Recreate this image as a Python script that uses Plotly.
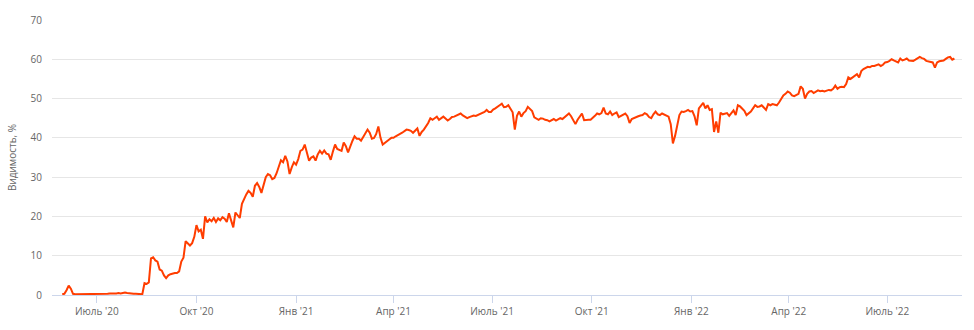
import pandas as pd
import plotly.graph_objects as go

# Visibility (%) sampled every 2 days starting 2020-05-30
start_date = "2020-05-30"
step = "2D"
visibility = [
    # 0-9
    0.2, 0.3, 1.2, 2.4, 1.6, 0.3, 0.2, 0.2, 0.2, 0.2,
    # 10-19
    0.2, 0.2, 0.3, 0.2, 0.2, 0.3, 0.3, 0.2, 0.3, 0.3,
    # 20-29
    0.3, 0.3, 0.4, 0.4, 0.3, 0.4, 0.5, 0.4, 0.5, 0.6,
    # 30-39
    0.5, 0.4, 0.4, 0.3, 0.3, 0.3, 0.2, 0.2, 3.0, 2.8,
    # 40-49
    3.2, 9.3, 9.6, 8.8, 8.5, 6.5, 6.2, 5.0, 4.3, 5.0,
    # 50-59
    5.3, 5.5, 5.6, 5.6, 6.0, 8.5, 9.5, 13.7, 13.0, 12.6,
    # 60-69
    13.2, 14.8, 17.8, 16.2, 16.6, 14.3, 20.0, 18.5, 19.3, 18.8,
    # 70-79
    19.6, 18.6, 19.5, 19.0, 19.8, 19.4, 18.6, 20.8, 19.0, 17.2,
    # 80-89
    21.0, 20.2, 19.6, 23.2, 24.5, 25.6, 26.5, 26.0, 25.0, 27.8,
    # 90-99
    28.5, 27.5, 26.0, 28.2, 30.0, 30.8, 30.5, 29.5, 29.8, 31.0,
    # 100-109
    33.0, 34.3, 33.8, 35.4, 34.0, 30.8, 32.5, 33.8, 33.2, 34.6,
    # 110-119
    36.7, 37.0, 38.3, 36.2, 34.2, 35.0, 35.3, 34.2, 35.8, 36.7,
    # 120-129
    36.0, 36.8, 36.0, 35.8, 34.4, 36.5, 38.3, 37.2, 37.0, 36.7,
    # 130-139
    38.8, 37.9, 36.3, 38.0, 39.2, 40.4, 39.8, 39.8, 39.3, 40.2,
    # 140-149
    41.3, 42.1, 41.3, 39.8, 40.0, 41.0, 42.9, 40.0, 38.3, 38.8,
    # 150-159
    39.2, 39.6, 40.0, 40.0, 40.4, 40.8, 41.0, 41.3, 41.6, 42.1,
    # 160-169
    42.0, 41.8, 41.3, 41.8, 42.4, 40.5, 41.5, 42.1, 42.8, 43.8,
    # 170-179
    45.0, 44.6, 45.0, 45.4, 44.6, 45.0, 45.4, 44.9, 44.4, 44.8,
    # 180-189
    45.3, 45.4, 45.6, 45.8, 46.2, 45.7, 45.4, 45.0, 45.3, 45.5,
    # 190-199
    45.7, 45.6, 45.8, 46.0, 46.2, 46.6, 47.1, 46.6, 46.6, 47.2,
    # 200-209
    47.5, 47.8, 48.3, 48.7, 47.8, 47.9, 48.3, 47.4, 46.5, 42.1,
    # 210-219
    45.6, 46.7, 45.4, 46.3, 46.8, 47.9, 47.3, 46.8, 45.2, 45.0,
    # 220-229
    44.6, 45.0, 44.9, 44.6, 44.5, 44.2, 44.6, 44.8, 44.4, 44.8,
    # 230-239
    45.0, 44.8, 45.2, 45.6, 46.2, 45.5, 44.4, 43.5, 44.6, 45.5,
    # 240-249
    46.2, 44.5, 44.6, 44.6, 44.6, 45.0, 45.6, 46.2, 46.0, 46.3,
    # 250-259
    47.7, 46.2, 46.0, 46.7, 45.8, 46.2, 46.5, 45.3, 45.6, 45.8,
    # 260-269
    46.2, 45.5, 43.8, 44.8, 45.1, 45.4, 45.5, 45.7, 45.8, 46.3,
    # 270-279
    46.0, 45.3, 45.0, 46.0, 46.7, 46.0, 45.8, 46.2, 45.9, 45.6,
    # 280-289
    45.4, 43.5, 38.6, 40.5, 43.5, 45.8, 46.7, 46.6, 46.8, 47.1,
    # 290-299
    46.7, 46.8, 45.5, 43.2, 47.5, 48.3, 48.9, 47.5, 48.3, 47.1,
    # 300-309
    47.3, 41.5, 44.2, 41.3, 46.4, 46.0, 46.2, 46.3, 45.6, 46.2,
    # 310-319
    47.0, 45.8, 48.3, 48.0, 47.5, 46.9, 45.8, 46.2, 46.7, 47.5,
    # 320-329
    48.3, 47.9, 48.0, 48.3, 47.6, 47.1, 48.6, 48.3, 48.6, 48.5,
    # 330-339
    48.3, 49.0, 49.8, 50.8, 51.2, 51.8, 51.5, 50.8, 50.6, 51.0,
    # 340-349
    51.2, 53.1, 52.5, 50.0, 51.2, 51.8, 51.9, 51.4, 51.8, 52.1,
    # 350-359
    51.9, 52.0, 51.8, 52.1, 52.2, 52.1, 52.5, 53.3, 52.5, 52.9,
    # 360-369
    53.0, 52.9, 53.7, 55.4, 55.0, 55.4, 55.8, 56.2, 55.4, 57.0,
    # 370-379
    57.5, 57.9, 58.1, 58.0, 58.3, 58.3, 58.5, 58.7, 58.3, 58.6,
    # 380-389
    59.2, 59.3, 59.6, 60.0, 59.7, 59.5, 59.2, 60.2, 59.7, 59.9,
    # 390-399
    60.2, 59.7, 59.6, 59.6, 59.9, 60.2, 60.6, 60.3, 60.1, 59.6,
    # 400-409
    59.4, 59.3, 59.2, 57.9, 59.2, 59.5, 59.6, 59.7, 60.1, 60.5,
    # 410-412
    60.6, 59.9, 60.2,
]

tick_dates = ["2020-07-01", "2020-10-01", "2021-01-01", "2021-04-01", "2021-07-01",
              "2021-10-01", "2022-01-01", "2022-04-01", "2022-07-01"]
tick_labels = ["Июль '20", "Окт '20", "Янв '21", "Апр '21", "Июль '21",
               "Окт '21", "Янв '22", "Апр '22", "Июль '22"]
y_ticks = [0, 10, 20, 30, 40, 50, 60, 70]
y_title = "Видимость, %"

dates = pd.date_range(start_date, periods=len(visibility), freq=step)

FONT = "Open Sans, Arial, sans-serif"

fig = go.Figure()
fig.add_trace(go.Scatter(
    x=dates, y=visibility, mode="lines",
    line=dict(color="#ff3d00", width=2),
    hoverinfo="x+y", showlegend=False,
))

fig.update_layout(
    width=974, height=330,
    margin=dict(l=48, r=12, t=15, b=35),
    paper_bgcolor="white", plot_bgcolor="white",
    font=dict(family=FONT, size=10, color="#666666"),
    xaxis=dict(
        type="date",
        range=["2020-05-20 14:00", "2022-09-08"],
        tickvals=tick_dates, ticktext=tick_labels,
        showgrid=False, zeroline=False,
        showline=True, linecolor="#ccd6eb", linewidth=1,
        ticks="outside", ticklen=7, tickcolor="#ccd6eb", tickwidth=1,
        tickfont=dict(size=10, color="#666666", family=FONT),
    ),
    yaxis=dict(
        range=[0, 70], tickvals=y_ticks,
        showgrid=True, gridcolor="#e6e6e6", gridwidth=1,
        zeroline=False, showline=False,
        ticks="", ticklabelstandoff=9,
        tickfont=dict(size=10, color="#666666", family=FONT),
        title=dict(text=y_title, font=dict(size=10, color="#666666", family=FONT), standoff=12),
    ),
)

fig.write_html("out.html")
